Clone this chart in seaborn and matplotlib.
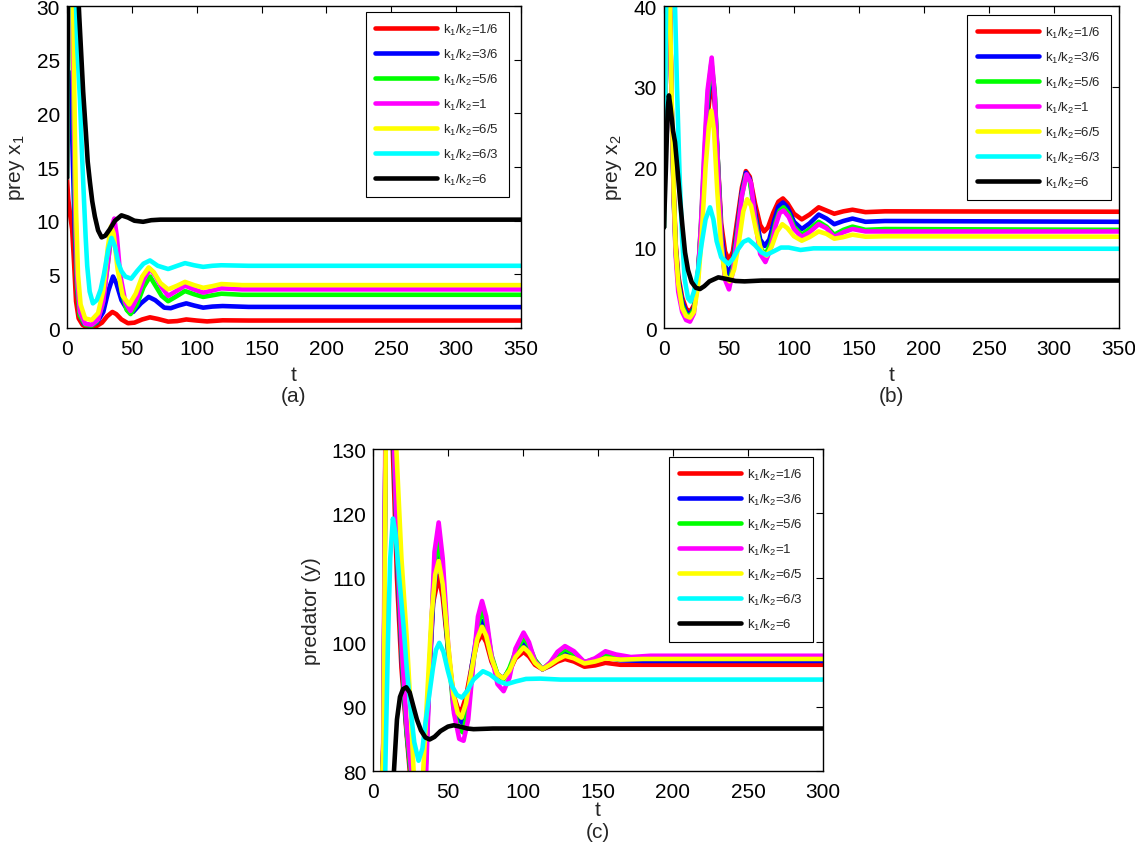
import matplotlib
matplotlib.use("Agg")
import matplotlib.pyplot as plt
import seaborn as sns
import pandas as pd

# ---------------- data: panel (a) prey x1 ----------------
A_RED_T = [0, 1, 2.5, 4, 5.5, 7, 9, 12, 15, 19, 23, 27, 31, 35, 38, 42, 47, 52, 58, 64, 70, 78, 85, 92, 100, 108, 120, 140, 350]
A_RED_V = [14, 12, 10.5, 9.2, 6, 2.5, 0.9, 0.3, 0.1, 0.05, 0.2, 0.5, 1.1, 1.5, 1.3, 0.8, 0.45, 0.5, 0.8, 1.0, 0.85, 0.6, 0.65, 0.8, 0.7, 0.62, 0.72, 0.7, 0.7]
A_BLUE_T = [0, 1.5, 2.5, 4, 6, 8, 10, 13, 18, 23, 28, 32, 35.5, 38, 42, 47, 51, 57, 63, 68, 75, 80, 86, 92, 98, 105, 112, 120, 140, 350]
A_BLUE_V = [14, 23.5, 23.8, 18, 9, 3.5, 1.2, 0.4, 0.2, 0.5, 1.5, 3.5, 4.8, 4.2, 2.6, 1.6, 1.5, 2.3, 2.9, 2.6, 1.9, 1.85, 2.1, 2.3, 2.1, 1.9, 2.0, 2.05, 1.97, 1.95]
A_GREEN_T = [0, 1, 2, 3.2, 4.3, 5.3, 6.3, 7.8, 9.8, 14, 19, 23, 27, 31, 34, 36, 39, 42, 46, 49, 54, 59, 64, 68, 73, 78, 85, 91, 98, 105, 112, 119, 135, 350]
A_GREEN_V = [14, 30, 37, 34, 27, 18, 10, 4, 1.2, 0.3, 0.2, 0.6, 2, 5.5, 8.5, 9.2, 6.5, 3.5, 1.7, 1.3, 2.2, 3.8, 4.8, 4.0, 3.0, 2.5, 3.0, 3.45, 3.15, 2.9, 3.05, 3.2, 3.1, 3.1]
A_MAG_T = [0, 1, 2, 3.3, 4.5, 5.5, 6.5, 8, 10, 14, 19, 24, 28, 32, 34.5, 36.5, 38.5, 41, 45, 49, 54, 59, 64, 68, 73, 78, 85, 91, 98, 105, 112, 119, 135, 350]
A_MAG_V = [14, 30, 38, 35, 28, 19, 11, 4.5, 1.5, 0.4, 0.3, 0.8, 2.5, 6.5, 9.5, 10.2, 8.5, 5.0, 2.4, 1.6, 2.8, 4.5, 5.5, 4.9, 3.8, 3.0, 3.5, 3.95, 3.6, 3.3, 3.5, 3.7, 3.6, 3.6]
A_YEL_T = [0, 1, 2, 3.5, 5, 6, 7, 8.5, 10.5, 14, 19, 24, 28, 31.5, 34, 36, 39, 43, 48, 53, 58, 63, 67, 72, 78, 85, 91, 98, 105, 112, 119, 135, 350]
A_YEL_V = [14, 30, 38, 36, 28, 19, 11, 5, 2.2, 0.9, 0.75, 1.4, 3.5, 7.5, 9.5, 8.8, 5.5, 3.0, 2.2, 3.2, 4.8, 5.65, 5.2, 4.2, 3.6, 3.95, 4.3, 4.0, 3.75, 3.9, 4.1, 4.0, 4.0]
A_CYAN_T = [0, 1, 2.5, 4.5, 7, 8, 10, 11.5, 13.1, 14.4, 15.6, 17.5, 20, 23, 26, 28.5, 31.8, 34.4, 37, 39.5, 42, 45, 49.5, 54, 59, 64, 70, 78, 85, 91, 98, 105, 112, 119, 140, 350]
A_CYAN_V = [14, 30, 40, 38, 30, 26, 21.3, 16.5, 12, 8.5, 5.8, 3.4, 2.3, 2.6, 3.6, 5.0, 7.3, 8.4, 7.6, 6.1, 5.3, 4.8, 4.6, 5.3, 6.0, 6.3, 5.8, 5.5, 5.8, 6.05, 5.85, 5.7, 5.8, 5.85, 5.8, 5.8]
A_BLACK_T = [0, 0.7, 2, 5, 8, 9.5, 11, 12.5, 14.6, 16, 17.7, 19.5, 21.5, 24, 26.7, 29.5, 33, 37, 42, 47, 52, 58.7, 65, 72, 350]
A_BLACK_V = [14, 30, 45, 40, 33, 29, 25.5, 22, 18.2, 15.5, 13.6, 11.8, 10.4, 9.1, 8.45, 8.6, 9.2, 10.0, 10.5, 10.3, 10.0, 9.9, 10.05, 10.1, 10.1]

# ---------------- data: panel (b) prey x2 ----------------
B_RED_T = [0, 1, 2, 3, 4.5, 6, 7.5, 9, 11, 14, 17, 20, 23, 26, 28.5, 31, 33.5, 36.5, 39, 41.5, 44, 47, 50, 53, 56, 60, 63, 66, 70, 74, 77, 80, 84, 88, 91.5, 95, 100, 106, 112, 119, 125, 131, 138, 145, 155, 170, 350]
B_RED_V = [12.5, 30, 44, 48, 40, 27, 17, 10.5, 6.5, 3.8, 2.4, 2.0, 2.8, 6.5, 12, 19, 26, 31, 28, 20.5, 13, 9.5, 8.4, 9.5, 13, 17.5, 19.5, 18.8, 15.5, 12.8, 12.0, 12.5, 14.3, 15.7, 16.1, 15.5, 14.2, 13.5, 14.1, 15.0, 14.6, 14.2, 14.5, 14.7, 14.4, 14.5, 14.45]
B_BLUE_T = [0, 1, 2, 3, 4.5, 6, 7.5, 9, 11, 14, 17, 20, 23, 26, 28.5, 31, 33.5, 36.5, 39, 41.5, 44, 47, 50, 53, 56, 60, 63, 66, 70, 74, 77.5, 81, 85, 88, 91.5, 95, 100, 106, 112, 119, 125, 131, 138, 145, 155, 170, 350]
B_BLUE_V = [12.5, 30, 44, 48, 40, 27, 16.5, 10, 6, 3.3, 2.0, 1.7, 2.5, 6.3, 12.5, 20, 27.5, 32.5, 29, 20.5, 12, 7.8, 6.7, 8.2, 12, 17, 19.3, 18.5, 14.5, 11.0, 10.2, 11.0, 13.5, 15.1, 15.6, 15.0, 13.2, 12.3, 13.0, 14.1, 13.6, 12.9, 13.3, 13.6, 13.2, 13.3, 13.2]
B_GREEN_T = [0, 1, 2, 3, 4.5, 6, 7.5, 9, 11, 14, 17, 20, 23, 26, 28.5, 31, 33.5, 36.5, 39, 41.5, 44, 47, 50, 53, 56, 60, 63, 66, 70, 74, 78, 82, 86, 89, 92, 96, 100, 106, 112, 119, 125, 131, 138, 145, 155, 170, 350]
B_GREEN_V = [12.5, 30, 44, 48, 40, 27, 16, 9.5, 5.5, 2.8, 1.7, 1.5, 2.3, 6.2, 13, 21, 28.5, 33, 29.5, 20.5, 11, 6.5, 5.5, 7.5, 11.5, 16.5, 19.0, 18.3, 13.8, 10.0, 9.1, 10.5, 13.2, 14.6, 15.0, 14.2, 12.6, 11.6, 12.3, 13.2, 12.6, 11.6, 12.2, 12.6, 12.2, 12.3, 12.2]
B_MAG_T = [0, 1, 2, 3, 4.5, 6, 7.5, 9, 11, 14, 17, 20, 23, 26, 28.5, 31, 33.5, 36.7, 39, 41.5, 44, 47, 50, 53, 56, 60, 63.5, 67, 70, 74, 78, 82, 86, 89, 92, 96, 100, 106, 112, 119, 125, 131, 138, 145, 155, 170, 350]
B_MAG_V = [12.5, 30, 44, 48, 40, 27, 16, 9, 4.5, 2.0, 1.0, 0.8, 1.8, 6, 13, 22, 29.5, 33.6, 29, 20, 11, 6.0, 4.8, 7.0, 11, 16.5, 19.1, 18.0, 13.5, 9.2, 8.2, 9.8, 12.8, 14.3, 14.6, 13.8, 12.3, 11.3, 11.9, 12.9, 12.4, 11.3, 11.9, 12.3, 12.0, 12.0, 12.0]
B_YEL_T = [0, 1, 2, 3, 4.5, 6, 7.5, 9, 11, 14, 17, 20, 23, 26, 29, 32, 34.5, 36.5, 38.5, 41, 44, 47, 50.5, 54, 57, 61, 64, 67, 71, 75, 79, 83, 87, 91, 95, 100, 106, 112, 119, 125, 131, 138, 145, 155, 170, 350]
B_YEL_V = [12.5, 30, 44, 48, 41, 28, 17, 10, 5.5, 2.5, 1.5, 1.3, 2.0, 5.0, 11.5, 20, 25, 27, 24.5, 17, 10, 6.5, 5.8, 7.3, 10, 14.5, 16.0, 15.2, 12, 9.5, 9.0, 10.2, 12.0, 12.9, 12.4, 11.4, 10.85, 11.3, 12.0, 11.7, 11.1, 11.3, 11.6, 11.35, 11.4, 11.35]
B_CYAN_T = [0, 1, 2, 4, 6, 8.5, 10, 12, 14, 16, 18.5, 20.5, 23, 26, 29, 32, 35.4, 38, 40.5, 44, 49.5, 53, 57, 61, 65, 70, 75, 79, 84, 90, 96, 105, 115, 350]
B_CYAN_V = [12.5, 30, 45, 50, 47, 40, 30, 19, 11, 6, 3.7, 3.3, 4.5, 7, 10.5, 13.5, 15.0, 13.5, 10.8, 8.8, 7.95, 8.6, 9.8, 10.7, 11.0, 10.3, 9.4, 9.1, 9.5, 10.0, 10.0, 9.7, 9.9, 9.85]
B_BLACK_T = [0, 1.5, 2.8, 3.8, 5, 7, 8.5, 10.5, 12.3, 14.3, 16.2, 18.5, 21.3, 24.5, 27.7, 31, 35, 41.8, 48, 55, 62, 75, 350]
B_BLACK_V = [12.5, 20, 27, 28.9, 27.5, 24.5, 23.1, 19.5, 16, 12.5, 9.4, 7.2, 5.7, 5.0, 4.85, 5.2, 5.8, 6.3, 6.1, 5.85, 5.8, 5.9, 5.9]

# ---------------- data: panel (c) predator y ----------------
C_RED_T = [0, 3, 5.5, 7, 8.3, 10, 12, 13.5, 16, 19, 22, 24.5, 27, 30, 33, 34.5, 37, 40, 43.8, 46.5, 50, 53.5, 56.5, 59, 62, 66, 69.5, 72.7, 75.5, 79, 83, 87, 91, 95, 100.4, 104, 108, 113, 118, 123, 128, 134, 141, 148, 155, 165, 180, 300]
C_RED_V = [58, 64, 76, 85, 130, 145, 138, 128, 110, 96, 87, 80, 72, 68, 76, 80, 93, 106, 110.3, 107, 99, 92, 89.8, 89.3, 91.5, 96.5, 100, 101.2, 100, 97, 95, 94.4, 95.5, 97.5, 98.5, 97.8, 96.5, 95.8, 96.3, 97.0, 97.4, 97.0, 96.2, 96.4, 96.8, 96.5, 96.5, 96.5]
C_BLUE_T = [0, 3, 5.5, 7, 8.3, 10, 12, 14, 16.5, 19.5, 22.5, 25, 27.5, 30.5, 33.5, 35, 37.5, 40.5, 43.8, 46.5, 50, 53.5, 57, 59.5, 62.5, 66, 69.5, 72.7, 75.5, 79, 83, 87, 91, 95, 100.4, 104, 108, 113, 118, 123, 128, 134, 141, 148, 155, 165, 180, 300]
C_BLUE_V = [57, 63, 75, 84, 130, 146, 140, 129, 111, 96, 86, 80, 71, 67, 76, 80, 94, 108, 113.7, 109, 99, 91, 88, 87.5, 90, 96.5, 101.5, 103.3, 101.5, 97.5, 95, 94.4, 95.8, 98, 99.8, 98.8, 97, 95.8, 96.5, 97.6, 98.4, 97.8, 96.9, 97.1, 97.7, 97.2, 97.1, 97.1]
C_GREEN_T = [0, 3, 5.5, 7, 8.3, 10, 12, 14, 16.5, 19.5, 22.5, 25, 27.5, 30.5, 33.5, 35, 37.5, 40.5, 43.8, 46.5, 50, 53.5, 57, 60, 63, 66.5, 70, 72.7, 75.5, 79, 83, 87, 91, 95, 100.4, 104, 108, 113, 118, 123, 128, 134, 141, 148, 155, 165, 180, 300]
C_GREEN_V = [56, 62, 74, 83, 130, 147, 141, 130, 112, 97, 86, 80, 70, 66, 75, 80, 95, 110, 116.5, 111, 99, 90, 86.5, 86.0, 89, 96, 102.5, 105.1, 103, 98, 95, 94.2, 96, 98.5, 100.7, 99.5, 97.3, 95.8, 96.8, 98.0, 98.9, 98.2, 96.9, 97.4, 98.2, 97.7, 97.6, 97.6]
C_MAG_T = [0, 3, 5.5, 6.7, 8.2, 10, 12, 14, 16.5, 19.5, 22.5, 25.5, 28, 31, 34, 35.5, 38, 41, 43.8, 46.5, 50, 54, 57.5, 60.4, 63.5, 67, 70, 72.7, 75.5, 79, 83, 87.1, 91, 95, 100.4, 104, 108, 113, 118, 123, 128, 134, 141, 148, 155, 162, 172, 185, 300]
C_MAG_V = [55, 62, 75, 80, 130, 148, 142, 131, 113, 98, 87, 80, 70, 65, 74, 80, 97, 114, 118.6, 113, 100, 89, 85, 84.7, 88, 97, 104, 106.4, 104, 98, 93.5, 92.4, 94.5, 99, 101.5, 100, 97, 95.8, 96.8, 98.5, 99.4, 98.6, 96.9, 97.5, 98.6, 98.1, 97.7, 97.9, 97.9]
C_YEL_T = [0, 3, 5.5, 7, 8.5, 10.5, 12.5, 15.6, 19, 22.7, 25.5, 27.1, 29.5, 31.5, 33.5, 36, 39, 41.5, 43.8, 46.5, 50, 53.5, 56.5, 59, 62, 66, 69.5, 72.7, 75.5, 79, 83, 87, 91, 95, 100.4, 104, 108, 113, 118, 123, 128, 134, 141, 148, 155, 165, 180, 300]
C_YEL_V = [57, 63, 75, 84, 130, 146, 141, 130, 113, 100, 88, 80, 71, 69, 80, 91, 104, 110.5, 112.6, 109, 100, 92, 89, 88.3, 90.5, 96, 100.5, 102.4, 101, 97.5, 95, 94.4, 95.6, 97.7, 99.2, 98.4, 96.8, 95.8, 96.5, 97.3, 97.9, 97.5, 96.7, 97.0, 97.5, 97.3, 97.4, 97.4]
C_CYAN_T = [0, 4, 6.5, 8.2, 10, 11.5, 13.3, 15, 17.5, 20.4, 22.5, 24.9, 27.5, 30.4, 33, 35, 37.1, 40, 42, 44.2, 47, 50, 52.7, 56, 59.3, 63, 67, 73.3, 78, 84, 89.3, 95, 102, 111.6, 125, 300]
C_CYAN_V = [55, 62, 72, 80, 100, 113, 119.2, 117, 110, 102.5, 96, 90.1, 84.5, 81.6, 83.5, 87.5, 91.1, 96, 98.8, 99.9, 98.5, 95.5, 93.2, 91.8, 91.4, 92.5, 94.2, 95.5, 95.0, 93.9, 93.5, 93.9, 94.3, 94.35, 94.2, 94.2]
C_BLACK_T = [0, 8, 12, 14, 16, 18, 20, 22.2, 24.5, 27, 29.3, 32, 35, 37.8, 41, 45, 50, 53.8, 58, 63, 67, 80, 300]
C_BLACK_V = [50, 65, 74, 80, 88, 91.5, 92.7, 93.0, 92.2, 90, 88.0, 86.3, 85.2, 84.9, 85.3, 86.2, 86.9, 87.1, 86.9, 86.6, 86.5, 86.6, 86.6]

LABELS = ["1/6", "3/6", "5/6", "1", "6/5", "6/3", "6"]
COLORS = ["#ff0000", "#0000ff", "#00ff00", "#ff00ff", "#ffff00", "#00ffff", "#000000"]

PANELS = [
    dict(series=[(A_RED_T, A_RED_V), (A_BLUE_T, A_BLUE_V), (A_GREEN_T, A_GREEN_V), (A_MAG_T, A_MAG_V),
                 (A_YEL_T, A_YEL_V), (A_CYAN_T, A_CYAN_V), (A_BLACK_T, A_BLACK_V)],
         xlim=(0, 350), ylim=(0, 30), yticks=range(0, 31, 5), xticks=range(0, 351, 50),
         ylabel=r"prey $\mathregular{x_1}$", tag="(a)", tagy=-0.211, xpad=8, xlpad=5,
         pos=[0.0590, 0.6147, 0.4000, 0.3770], leg=(0.974, 0.981)),
    dict(series=[(B_RED_T, B_RED_V), (B_BLUE_T, B_BLUE_V), (B_GREEN_T, B_GREEN_V), (B_MAG_T, B_MAG_V),
                 (B_YEL_T, B_YEL_V), (B_CYAN_T, B_CYAN_V), (B_BLACK_T, B_BLACK_V)],
         xlim=(0, 350), ylim=(0, 40), yticks=range(0, 41, 10), xticks=range(0, 351, 50),
         ylabel=r"prey $\mathregular{x_2}$", tag="(b)", tagy=-0.211, xpad=8, xlpad=5,
         pos=[0.5850, 0.6147, 0.4009, 0.3770], leg=(0.982, 0.972)),
    dict(series=[(C_RED_T, C_RED_V), (C_BLUE_T, C_BLUE_V), (C_GREEN_T, C_GREEN_V), (C_MAG_T, C_MAG_V),
                 (C_YEL_T, C_YEL_V), (C_CYAN_T, C_CYAN_V), (C_BLACK_T, C_BLACK_V)],
         xlim=(0, 300), ylim=(80, 130), yticks=range(80, 131, 10), xticks=range(0, 301, 50),
         ylabel="predator (y)", tag="(c)", tagy=-0.188, xpad=8, xlpad=-1,
         pos=[0.3286, 0.0960, 0.3965, 0.3770], leg=(0.978, 0.975)),
]

sns.set_style("white")
plt.rcParams["font.family"] = ["Liberation Sans", "DejaVu Sans"]
plt.rcParams["mathtext.default"] = "regular"

fig = plt.figure(figsize=(11.35, 8.54), dpi=100)

for p in PANELS:
    ax = fig.add_axes(p["pos"])
    for (t, v), lab, col in zip(p["series"], LABELS, COLORS):
        df = pd.DataFrame({"t": t, "v": v})
        sns.lineplot(data=df, x="t", y="v", color=col, linewidth=3.3, ax=ax,
                     label=r"$\mathregular{k_1/k_2}$=" + lab, estimator=None, sort=False)
    ax.set_xlim(*p["xlim"])
    ax.set_ylim(*p["ylim"])
    ax.set_xticks(list(p["xticks"]))
    ax.set_yticks(list(p["yticks"]))
    for s in ax.spines.values():
        s.set_visible(True)
        s.set_color("black")
        s.set_linewidth(1.0)
    ax.tick_params(direction="in", top=True, right=True, length=5, width=0.8,
                   labelsize=15, colors="black", pad=5)
    ax.tick_params(axis="x", pad=p["xpad"])
    ax.set_xlabel("t", fontsize=15, labelpad=p["xlpad"])
    ax.set_ylabel(p["ylabel"], fontsize=15, labelpad=7)
    ax.text(0.5, p["tagy"], p["tag"], transform=ax.transAxes, ha="center", va="center", fontsize=15)
    leg = ax.legend(loc="upper right", bbox_to_anchor=p["leg"], borderaxespad=0,
                    fontsize=9.5, handlelength=4.7, handletextpad=0.45, labelspacing=0.75,
                    borderpad=0.75, fancybox=False, framealpha=1, edgecolor="black")
    leg.get_frame().set_linewidth(0.8)
    for h in leg.get_lines():
        h.set_linewidth(3.3)

fig.savefig("out.png", dpi=100)
